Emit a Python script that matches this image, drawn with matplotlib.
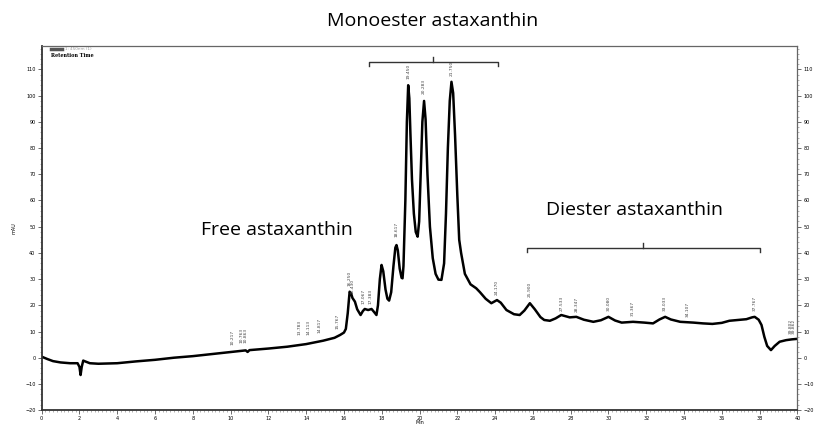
import matplotlib.pyplot as plt
from matplotlib.ticker import MultipleLocator

# retention time (min) and absorbance (mAU)
rt = [0.0, 0.3, 0.6, 1.0, 1.5, 1.9, 2.0, 2.06, 2.12, 2.2, 2.3, 2.55, 3.0, 4.0, 5.0,
      6.0, 7.0, 8.0, 9.0, 10.0, 10.8, 10.9, 11.0, 12.0, 13.0, 14.0, 14.9, 15.5, 15.8,
      16.0, 16.1, 16.2, 16.3, 16.38, 16.45, 16.58, 16.7, 16.88, 17.0, 17.1, 17.28,
      17.46, 17.6, 17.72, 17.8, 17.9, 17.99, 18.08, 18.2, 18.3, 18.39, 18.5, 18.62,
      18.72, 18.78, 18.85, 18.95, 19.05, 19.1, 19.15, 19.25, 19.33, 19.4, 19.46,
      19.52, 19.6, 19.7, 19.8, 19.9, 19.98, 20.06, 20.15, 20.24, 20.32, 20.42, 20.55,
      20.7, 20.85, 21.0, 21.16, 21.3, 21.4, 21.5, 21.6, 21.69, 21.78, 21.88, 22.0,
      22.1, 22.2, 22.4, 22.7, 23.0, 23.2, 23.5, 23.8, 24.1, 24.3, 24.6, 25.0, 25.3,
      25.55, 25.84, 26.1, 26.4, 26.6, 26.9, 27.2, 27.5, 27.95, 28.3, 28.7, 29.2, 29.6,
      30.0, 30.35, 30.7, 31.3, 31.9, 32.36, 32.7, 33.0, 33.3, 33.8, 34.5, 35.0, 35.5,
      36.0, 36.4, 37.0, 37.3, 37.6, 37.74, 37.95, 38.1, 38.25, 38.4, 38.6, 38.8,
      39.06, 39.4, 39.7, 40.0]
mau = [0.4, -0.5, -1.3, -1.8, -2.1, -2.1, -3.5, -6.6, -3.5, -1.1, -1.4, -2.1, -2.3,
       -2.1, -1.4, -0.8, 0.0, 0.6, 1.4, 2.2, 2.8, 2.2, 2.9, 3.5, 4.2, 5.2, 6.5, 7.6,
       8.7, 9.6, 11.0, 17.0, 25.2, 24.5, 22.8, 21.4, 18.5, 16.3, 17.8, 18.6, 18.2,
       18.6, 17.4, 16.3, 20.0, 30.0, 35.4, 33.0, 26.0, 22.5, 21.8, 25.0, 35.0, 42.0,
       43.0, 41.0, 34.0, 30.5, 30.3, 35.0, 60.0, 90.0, 104.0, 99.0, 85.0, 68.0, 55.0,
       48.0, 46.2, 52.0, 70.0, 90.0, 98.0, 91.0, 70.0, 50.0, 38.0, 32.0, 29.8, 29.7,
       36.0, 55.0, 80.0, 98.0, 105.3, 101.0, 85.0, 62.0, 45.0, 40.0, 32.0, 28.0,
       26.5, 25.0, 22.5, 20.8, 22.0, 21.0, 18.2, 16.6, 16.3, 18.0, 20.8, 18.5, 15.5,
       14.4, 14.1, 15.0, 16.3, 15.4, 15.6, 14.5, 13.7, 14.3, 15.6, 14.2, 13.4, 13.7,
       13.4, 13.1, 14.6, 15.6, 14.6, 13.7, 13.4, 13.1, 12.9, 13.3, 14.1, 14.5, 14.7,
       15.4, 15.6, 14.5, 12.5, 8.0, 4.5, 2.9, 4.5, 6.1, 6.7, 7.0, 7.2]

# integration marks above the peaks
peak_names = ["10.217", "10.763", "10.863", "13.783", "14.113", "14.817", "15.767",
              "16.250", "16.430", "17.067", "17.383", "18.617", "19.450", "20.283",
              "21.750", "24.170", "25.900", "27.533", "28.347", "30.080", "31.367",
              "33.033", "34.107", "37.767", "39.802", "39.862"]
peak_rt = [10.1, 10.6, 10.8, 13.67, 14.1, 14.7, 15.68, 16.27, 16.45, 17.05, 17.42,
           18.78, 19.4, 20.24, 21.69, 24.1, 25.84, 27.5, 28.3, 30.0, 31.3, 33.0,
           34.2, 37.74, 39.65, 39.8]
peak_lab_y = [5.0, 5.5, 5.5, 8.5, 8.5, 9.5, 11.0, 27.5, 24.5, 20.5, 20.5, 46.0,
              106.5, 100.5, 107.5, 24.0, 23.0, 18.0, 17.5, 18.0, 16.0, 18.0, 15.5,
              18.0, 9.0, 9.0]

groups = ["Free astaxanthin", "Monoester astaxanthin", "Diester astaxanthin"]
group_x = [12.45, 20.7, 31.4]
group_y = [48.7, 128.5, 56.3]
brackets = [(17.33, 24.14, 112.9), (25.68, 38.0, 41.9)]

fig = plt.figure(figsize=(8.17, 4.25), dpi=100)
ax = fig.add_axes([0.051, 0.035, 0.925, 0.857])

ax.plot(rt, mau, color="black", lw=1.8, solid_joinstyle="round")

for name, x, y in zip(peak_names, peak_rt, peak_lab_y):
    ax.text(x, y, name, rotation=90, fontsize=3.2, color="#444444",
            ha="center", va="bottom")

for x0, x1, y in brackets:
    xm = (x0 + x1) / 2
    ax.plot([x0, x0, x1, x1], [y - 1.6, y, y, y - 1.6], color="#333333", lw=1.0)
    ax.plot([xm, xm], [y, y + 1.8], color="#333333", lw=1.0)

for name, x, y in zip(groups, group_x, group_y):
    ax.text(x, y, name, fontsize=14, family="Open Sans", ha="center",
            va="center", clip_on=False)

ax.set_xlim(0, 40)
ax.set_ylim(-20, 119)
ax.xaxis.set_major_locator(MultipleLocator(2))
ax.xaxis.set_minor_locator(MultipleLocator(0.2))
ax.yaxis.set_major_locator(MultipleLocator(10))
ax.yaxis.set_minor_locator(MultipleLocator(2))
ax.set_yticks(range(-20, 111, 10))
ax.tick_params(axis="both", which="major", labelsize=3.5, length=3, width=0.6,
               color="#555555", pad=1.5)
ax.tick_params(axis="both", which="minor", length=1.5, width=0.4, color="#777777")
ax.tick_params(axis="y", which="both", right=True, labelright=True)

for side in ["left", "bottom"]:
    ax.spines[side].set_linewidth(1.3)
    ax.spines[side].set_color("#333333")
for side in ["top", "right"]:
    ax.spines[side].set_linewidth(0.9)
    ax.spines[side].set_color("#666666")

ax.set_ylabel("mAU", fontsize=3.5, labelpad=6)
ax.set_xlabel("Min", fontsize=3.5, labelpad=0)
ax.xaxis.set_label_coords(0.5, -0.028)

# small legend in the top-left corner
ax.plot([0.5, 1.1], [117.8, 117.8], color="#555555", lw=2.5)
ax.text(1.25, 117.8, "1: 450nm (1)", fontsize=3, color="#999999", va="center")
ax.text(0.5, 115.3, "Retention Time", fontsize=3.5, color="black", va="center",
        family="DejaVu Serif", weight="bold")

fig.savefig("out.png", dpi=100)
